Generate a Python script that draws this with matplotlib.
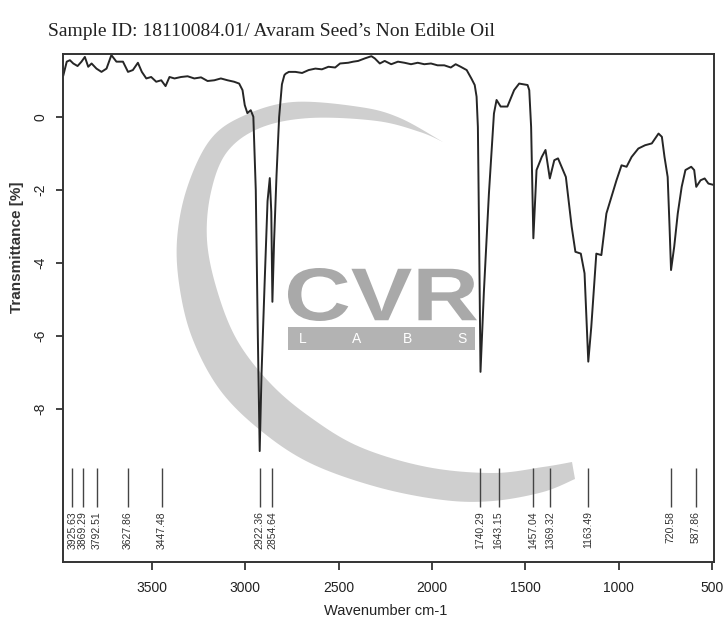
import matplotlib
matplotlib.use("Agg")
import matplotlib.pyplot as plt
from matplotlib.patches import Polygon, Rectangle, PathPatch
from matplotlib.textpath import TextPath
from matplotlib.font_manager import FontProperties
from matplotlib.transforms import Affine2D
import numpy as np

# ---------------- data ----------------
wavenumber = [
    3973, 3955, 3938, 3920, 3897, 3876, 3858, 3840, 3822, 3796, 3769, 3742,
    3716, 3689, 3654, 3627, 3601, 3574, 3553, 3529, 3503, 3476, 3449, 3426,
    3405, 3378, 3343, 3308, 3272, 3236, 3201, 3165, 3130, 3094, 3059, 3032,
    3014, 3002, 2988, 2970, 2956, 2943, 2932, 2922, 2912, 2896, 2880, 2868,
    2860, 2854, 2845, 2832, 2818, 2803, 2790, 2783,
    2766, 2731, 2695, 2660, 2624, 2589, 2554, 2518, 2492, 2448, 2421, 2395,
    2359, 2324, 2306, 2279, 2253, 2218, 2182, 2147, 2112, 2076, 2041, 2005,
    1970, 1934, 1899, 1873, 1846, 1814, 1789, 1771, 1761, 1754, 1748, 1740,
    1722, 1695, 1668, 1654, 1632, 1596, 1560, 1533, 1488, 1479, 1469, 1457,
    1440, 1412, 1392, 1369, 1345, 1325, 1283, 1252, 1232, 1203, 1183, 1163,
    1147, 1120, 1093, 1066, 1039, 1012, 985, 958, 931, 895, 859, 823, 787,
    769, 755, 738, 728, 720, 703, 684, 663, 643, 612, 596, 585, 562, 540,
    520, 490,
]
transmittance = [
    1.15, 1.52, 1.56, 1.47, 1.40, 1.52, 1.65, 1.38, 1.47, 1.33, 1.24, 1.33,
    1.70, 1.52, 1.52, 1.24, 1.29, 1.49, 1.24, 1.06, 1.10, 0.97, 1.01, 0.85,
    1.10, 1.06, 1.10, 1.12, 1.06, 1.09, 0.99, 1.01, 1.06, 1.01, 0.97, 0.92,
    0.74, 0.33, 0.11, 0.19, 0.01, -2.0, -6.0, -9.15, -7.0, -4.6, -2.3, -1.67,
    -2.6, -5.06, -3.4, -1.6, 0.0, 0.9, 1.15, 1.19,
    1.24, 1.24, 1.21, 1.29, 1.33, 1.31, 1.38, 1.36, 1.47, 1.49, 1.52, 1.54,
    1.61, 1.67, 1.61, 1.47, 1.54, 1.45, 1.52, 1.49, 1.45, 1.49, 1.45, 1.47,
    1.42, 1.42, 1.36, 1.45, 1.38, 1.29, 1.06, 0.88, 0.56, -0.27, -3.0, -6.98,
    -4.8, -2.1, 0.1, 0.47, 0.29, 0.29, 0.74, 0.92, 0.88, 0.74, -0.27, -3.32,
    -1.45, -1.09, -0.90, -1.68, -1.18, -1.13, -1.64, -3.0, -3.69, -3.74, -4.28, -6.70,
    -5.75, -3.74, -3.78, -2.64, -2.18, -1.73, -1.32, -1.36, -1.09, -0.86, -0.77, -0.72, -0.45,
    -0.54, -1.09, -1.64, -3.0, -4.19, -3.55, -2.64, -1.91, -1.45, -1.36, -1.45, -1.91, -1.73,
    -1.68, -1.82, -1.86,
]

peak_positions = [3925.63, 3869.29, 3792.51, 3627.86, 3447.48, 2922.36, 2854.64,
                  1740.29, 1643.15, 1457.04, 1369.32, 1163.49, 720.58, 587.86]
peak_labels = ["3925.63", "3869.29", "3792.51", "3627.86", "3447.48", "2922.36",
               "2854.64", "1740.29", "1643.15", "1457.04", "1369.32", "1163.49",
               "720.58", "587.86"]

x_ticks = [3500, 3000, 2500, 2000, 1500, 1000, 500]
x_ticklabels = ["3500", "3000", "2500", "2000", "1500", "1000", "500"]
y_ticks = [0, -2, -4, -6, -8]
y_ticklabels = ["0", "-2", "-4", "-6", "-8"]

title_text = "Sample ID: 18110084.01/ Avaram Seed\u2019s Non Edible Oil"
x_label = "Wavenumber cm-1"
y_label = "Transmittance [%]"

# ---------------- figure ----------------
W, H = 724, 623
fig = plt.figure(figsize=(W / 100, H / 100), dpi=100)
fig.patch.set_facecolor("white")

sans = ["Liberation Sans", "DejaVu Sans"]
serif = ["Liberation Serif", "DejaVu Serif"]


def smooth_curve(pts, n=12):
    """Catmull-Rom smoothing of an open outline (decoration only)."""
    p = np.asarray(pts, dtype=float)
    p = np.vstack([p[0], p, p[-1]])
    out = []
    for i in range(1, len(p) - 2):
        p0, p1, p2, p3 = p[i - 1], p[i], p[i + 1], p[i + 2]
        for t in np.linspace(0, 1, n, endpoint=False):
            t2, t3 = t * t, t * t * t
            out.append(0.5 * ((2 * p1) + (-p0 + p2) * t
                              + (2 * p0 - 5 * p1 + 4 * p2 - p3) * t2
                              + (-p0 + 3 * p1 - 3 * p2 + p3) * t3))
    out.append(p[-2])
    return np.array(out)


# watermark (background layer, in pixel coordinates)
bg = fig.add_axes([0, 0, 1, 1], zorder=0)
bg.set_xlim(0, W)
bg.set_ylim(H, 0)
bg.axis("off")
outer = [(443, 142), (400, 118), (360, 107), (293, 102), (243, 116), (210, 140),
         (187, 188), (177, 240), (180, 290), (193, 340), (220, 390), (260, 430),
         (310, 463), (377, 487), (443, 500), (493, 501), (543, 492), (575, 479)]
inner = [(572, 462), (543, 467), (493, 473), (427, 467), (360, 447), (310, 417),
         (270, 383), (237, 340), (217, 290), (207, 240), (211, 192), (227, 152),
         (260, 128), (310, 118), (377, 121), (420, 132), (443, 142)]
ring = np.vstack([smooth_curve(outer), smooth_curve(inner)])
bg.add_patch(Polygon(ring, closed=True, facecolor="#cfcfcf", edgecolor="none"))

# "CVR" logo text, fitted into its box
tp = TextPath((0, 0), "CVR", size=100,
              prop=FontProperties(family=sans, weight="bold"))
ext = tp.get_extents()
bx0, bx1, by0, by1 = 288, 477, 268, 321
sx = (bx1 - bx0) / ext.width
sy = (by1 - by0) / ext.height
trf = (Affine2D().translate(-ext.x0, -ext.y0).scale(sx, -sy)
       .translate(bx0, by1))
bg.add_patch(PathPatch(trf.transform_path(tp), facecolor="#a9a9a9",
                       edgecolor="none"))
bg.add_patch(Rectangle((288, 327), 187, 23, facecolor="#b3b3b3",
                       edgecolor="none"))
for lx, ch in zip([303, 357, 407, 462], "LABS"):
    bg.text(lx, 339, ch, fontsize=10, family=sans, color="white",
            ha="center", va="center")

# main axes
ax = fig.add_axes([63 / W, 1 - 562 / H, 651 / W, 508 / H], zorder=1)
ax.patch.set_visible(False)
ax.plot(wavenumber, transmittance, color="#262626", lw=1.4)

ax.vlines(peak_positions, -10.68, -9.62, color="#444444", lw=1.0)
for p, lab in zip(peak_positions, peak_labels):
    ax.text(p, -10.8, lab, rotation=90, ha="center", va="top",
            fontsize=7.5, family=sans, color="#333333")

ax.set_xlim(3975, 490)
ax.set_ylim(-12.19, 1.73)
ax.set_xticks(x_ticks)
ax.set_xticklabels(x_ticklabels, family=sans, fontsize=10)
ax.set_yticks(y_ticks)
ax.set_yticklabels(y_ticklabels, rotation=90, va="center", family=sans,
                   fontsize=10)
ax.tick_params(axis="x", direction="out", length=6, width=1.2, pad=8,
               colors="#222222")
ax.tick_params(axis="y", direction="out", length=5, width=1.2, pad=6,
               colors="#222222")
for s in ax.spines.values():
    s.set_linewidth(1.4)
    s.set_color("#333333")

ax.set_xlabel(x_label, family=sans, fontsize=10.5, color="#222222")
ax.xaxis.set_label_coords(0.495, -0.083)
ax.set_ylabel(y_label, family=sans, fontsize=11, fontweight="bold",
              color="#333333")
ax.yaxis.set_label_coords(-0.06, 0.62)

fig.text(48 / W, 1 - 32 / H, title_text, family=serif, fontsize=14,
         ha="left", va="center", color="#222222")

fig.savefig("out.png", dpi=100)
